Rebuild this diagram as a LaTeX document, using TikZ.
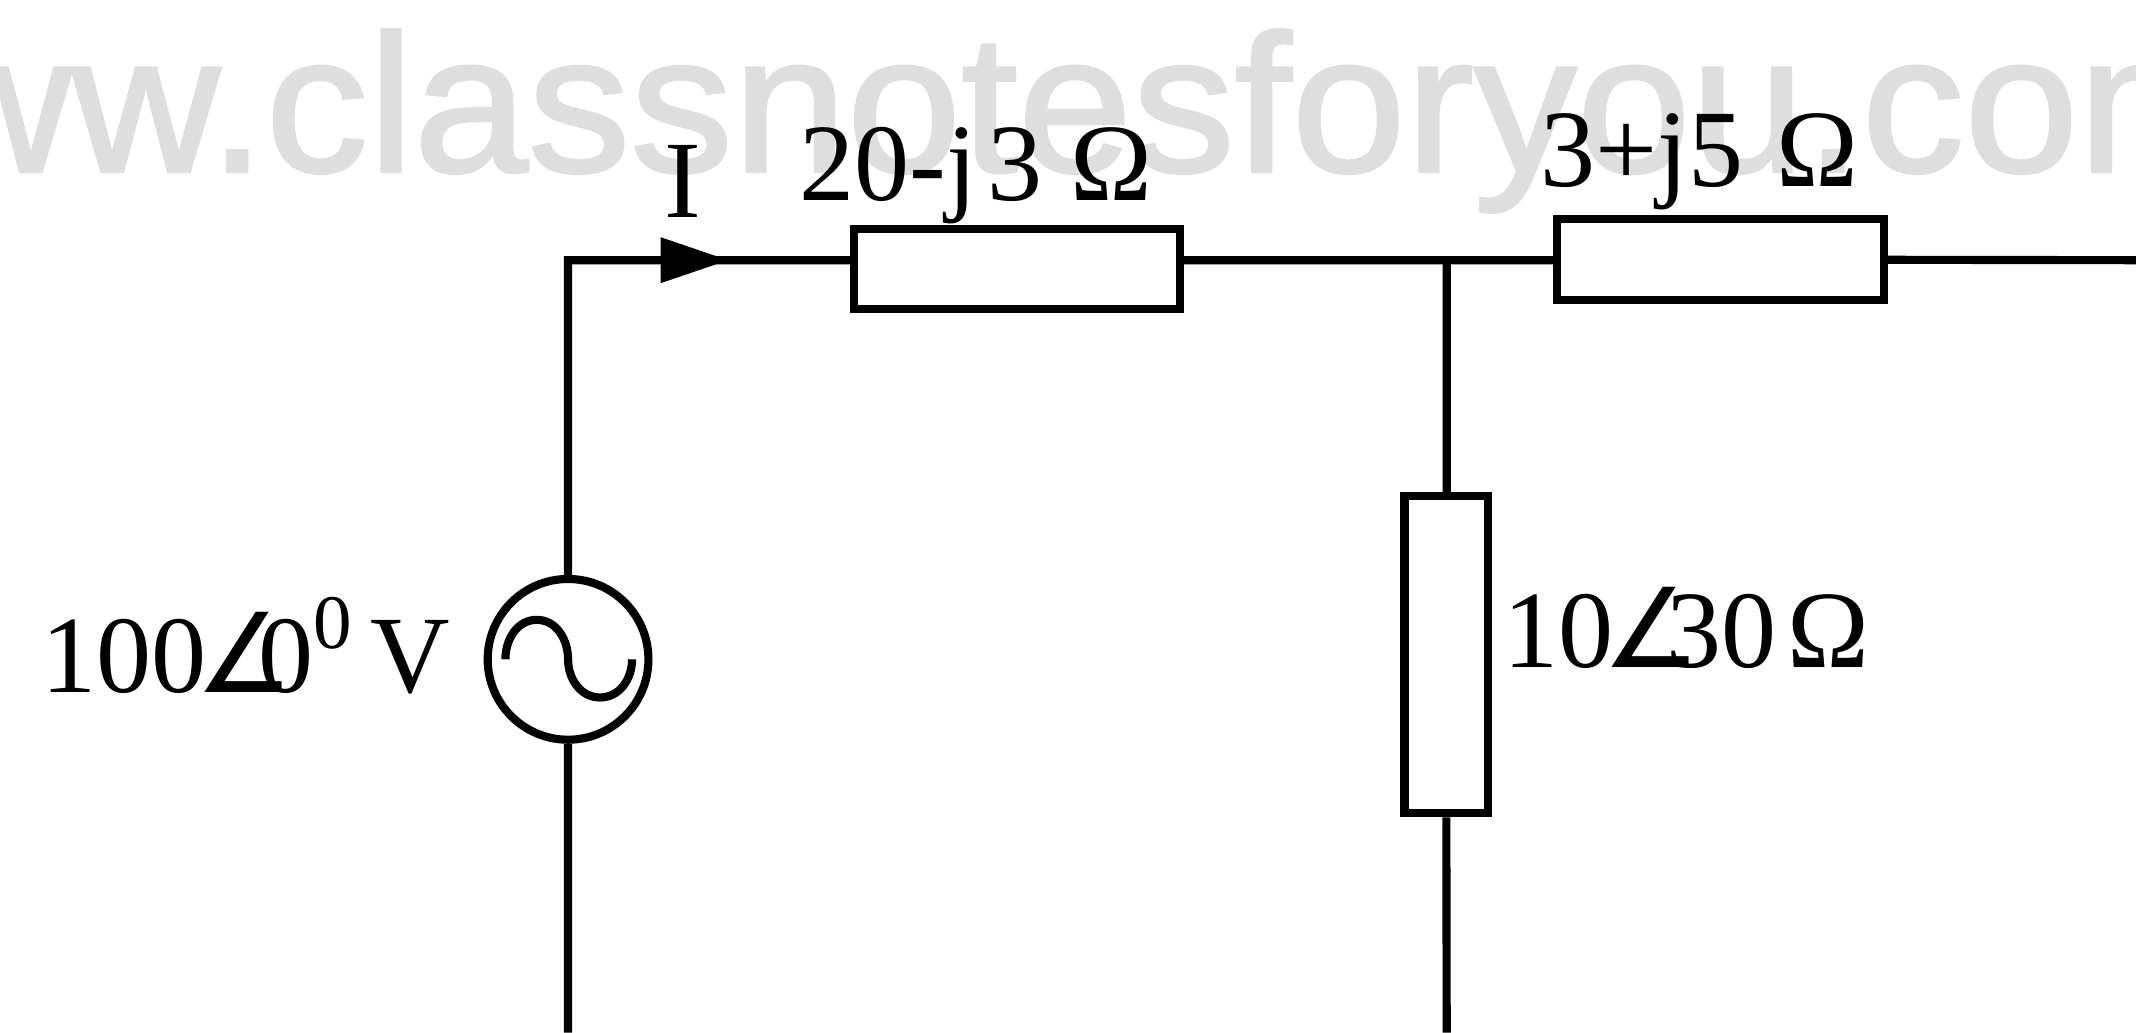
\documentclass[tikz,border=0pt]{standalone}
\usepackage{fontspec}
\setmainfont{Liberation Serif}
\newfontfamily\markfont[FakeBold=1.5]{Liberation Sans}
\newfontfamily\symfont{DejaVu Sans}
\usetikzlibrary{arrows.meta}
\newcommand{\angsym}{{\symfont\char"2220}}
\tikzset{wire/.style={line width=1.7pt}}
\tikzset{resbox/.style={draw,line width=1.7pt,rectangle,inner sep=0pt}}
\tikzset{reslabel/.style={inner sep=0pt,anchor=base west,font=\fontsize{23}{24}\selectfont}}

\begin{document}
\begin{tikzpicture}[node distance=2.5cm]
\useasboundingbox (0,0) rectangle (15.68,7.58);
\clip (0,0) rectangle (15.68,7.58);
\node[anchor=base east,inner sep=0pt,text=black!13,xscale=1.045,transform shape,font=\markfont\fontsize{41}{43}\selectfont] (mark) at (16.52,6.32) {www.classnotesforyou.com};
\coordinate (c_0) at (4.17,5.67);
\coordinate (j_1) at (10.62,5.67);
\coordinate (e_1) at (15.68,5.67);
\coordinate (b_1) at (4.17,0);
\coordinate (b_2) at (10.62,0);
\coordinate (tip) at (5.35,5.67);
\node[resbox,minimum width=2.39cm,minimum height=.59cm] (r_1) at (7.465,5.605) {};
\node[resbox,minimum width=2.40cm,minimum height=.59cm] (r_2) at (12.63,5.675) {};
\node[resbox,minimum width=.61cm,minimum height=2.33cm] (r_3) at (10.615,2.775) {};
\node[circle,draw,line width=1.7pt,minimum size=1.18cm,inner sep=0pt] (s_0) at (4.17,2.74) {};
\draw[wire] ([xshift=-.46cm]s_0.center) to[out=90,in=180] ++(.23,.29) to[out=0,in=90] ++(.23,-.29)
	to[out=-90,in=180] ++(.235,-.28) to[out=0,in=-90] ++(.235,.28);
\path[wire,draw]	(s_0) -- (c_0) -- (c_0 -| r_1.west)
		(c_0 -| r_1.east) -- (j_1) -- (j_1 -| r_2.west)
		(r_2) -- (e_1)
		(j_1) -- (j_1 |- r_3.north)
		(s_0) -- (b_1)
		(r_3) -- (b_2);
\draw[wire,-{Triangle[length=.5cm,width=.32cm]}] (c_0) -- (tip);
\node[reslabel] (l_i)  at (4.87,5.98) {I};
\node[reslabel] (l_1)  at (5.86,6.11) {20-j\hspace{.1em}3 \char"03A9};
\node[reslabel] (l_2)  at (11.30,6.21) {3+j5\hspace{.3em}\char"03A9};
\node[reslabel] (l_3)  at (11.03,2.68) {10\hspace{-.1em}\angsym\hspace{-.32em}30\hspace{.1em}\char"03A9};
\node[reslabel] (l_s)  at (.30,2.50) {100\hspace{-.1em}\angsym\hspace{-.33em}0\textsuperscript{0}\hspace{.15em}V};
\end{tikzpicture}
\end{document}
